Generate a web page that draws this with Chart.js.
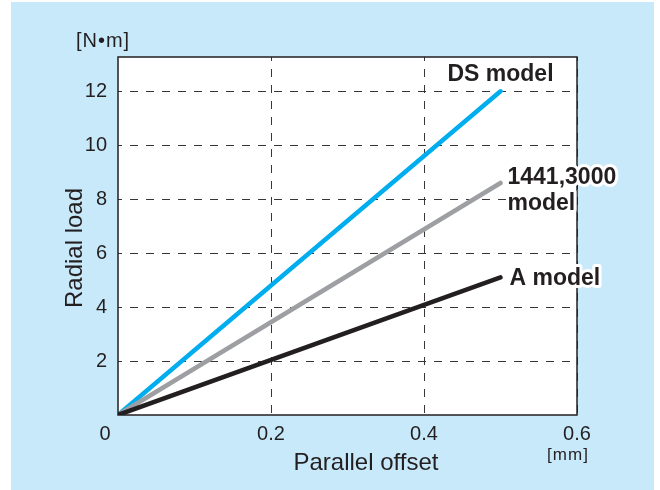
<!DOCTYPE html>
<html>
<head>
<meta charset="utf-8">
<script src="https://cdn.jsdelivr.net/npm/chart.js@4/dist/chart.umd.min.js"></script>
<style>
  body { margin: 0; background: #fff; }
</style>
</head>
<body>
<canvas id="chart" width="660" height="490"></canvas>
<script>
// data
var offsets   = [0, 0.5];          // parallel offset [mm]
var dsModel   = [0, 12.0];         // radial load [N·m]
var midModel  = [0, 8.6];
var aModel    = [0, 5.1];
var xTicks    = [0, 0.2, 0.4, 0.6];
var yTicks    = [0, 2, 4, 6, 8, 10, 12];
var seriesNames = ['DS model', '1441,3000\nmodel', 'A model'];

var ink = '#231f20';
var font = '"Liberation Sans", Arial, Helvetica, sans-serif';

var toPoints = function(ys) {
	var pts = [];
	for (var i = 0; i < offsets.length; i++) {
		pts.push({x: offsets[i], y: ys[i]});
	}
	return pts;
}

var haloText = function(ctx, text, x, y) {
	ctx.strokeText(text, x, y);
	ctx.fillText(text, x, y);
}

// background, plot frame, titles and end labels
var decor = {
	id: 'decor',
	beforeDraw: function(chart) {
		var ctx = chart.ctx, a = chart.chartArea;
		ctx.save();
		ctx.fillStyle = '#fff';
		ctx.fillRect(0, 0, chart.width, chart.height);
		ctx.fillStyle = '#c8e9f9';
		ctx.fillRect(11, 2, 643, 488);
		ctx.fillStyle = '#fff';
		ctx.fillRect(a.left, a.top, a.right - a.left, a.bottom - a.top);
		ctx.restore();
	},
	afterDatasetsDraw: function(chart) {
		var ctx = chart.ctx, a = chart.chartArea;
		var xs = chart.scales.x, ys = chart.scales.y;
		ctx.save();
		ctx.strokeStyle = ink;
		ctx.lineWidth = 1.5;
		ctx.strokeRect(a.left, a.top, a.right - a.left, a.bottom - a.top);

		ctx.fillStyle = ink;
		ctx.textBaseline = 'middle';

		// shared origin label
		ctx.font = '20px ' + font;
		ctx.textAlign = 'center';
		ctx.fillText('0', a.left - 13, a.bottom + 19);

		// axis titles
		ctx.font = '24px ' + font;
		ctx.fillText('Parallel offset', 366, 463);
		ctx.save();
		ctx.translate(75, 248);
		ctx.rotate(-Math.PI / 2);
		ctx.fillText('Radial load', 0, 0);
		ctx.restore();

		// units
		ctx.letterSpacing = '1px';
		ctx.font = '20px ' + font;
		ctx.fillText('[N•m]', 103, 41);
		ctx.font = '17px ' + font;
		ctx.fillText('[mm]', 568, 455);
		ctx.letterSpacing = '0px';

		// series labels at the line ends
		ctx.font = 'bold 23px ' + font;
		ctx.strokeStyle = '#fff';
		ctx.lineWidth = 6;
		ctx.lineJoin = 'round';
		var last = offsets.length - 1;
		var px = xs.getPixelForValue(offsets[last]);

		ctx.textAlign = 'center';
		haloText(ctx, seriesNames[0], px, ys.getPixelForValue(dsModel[last]) - 17);

		ctx.textAlign = 'left';
		var lines = seriesNames[1].split('\n');
		var py = ys.getPixelForValue(midModel[last]) - 5;
		haloText(ctx, lines[0], px + 7, py);
		haloText(ctx, lines[1], px + 7, py + 26);

		haloText(ctx, seriesNames[2], px + 9, ys.getPixelForValue(aModel[last]) + 1);
		ctx.restore();
	}
};

var lineStyle = function(color) {
	return {
		borderColor: color,
		backgroundColor: color,
		borderWidth: 4.5,
		borderCapStyle: 'round',
		pointRadius: 0,
		fill: false,
		tension: 0
	};
}

var dsSet = Object.assign({label: 'DS model', data: toPoints(dsModel)}, lineStyle('#00aeef'));
var midSet = Object.assign({label: '1441,3000 model', data: toPoints(midModel)}, lineStyle('#9d9fa2'));
var aSet = Object.assign({label: 'A model', data: toPoints(aModel)}, lineStyle(ink));

var gridOpts = {
	color: function(c) { return c.tick && c.tick.value === 0 ? 'rgba(0,0,0,0)' : '#3a3637'; },
	lineWidth: 1,
	drawTicks: false
};

new Chart(document.getElementById('chart'), {
	type: 'line',
	data: { datasets: [aSet, midSet, dsSet] },
	options: {
		responsive: false,
		animation: false,
		layout: { padding: { left: 11, top: 57, right: 83, bottom: 0 } },
		plugins: { legend: { display: false }, tooltip: { enabled: false } },
		scales: {
			x: {
				type: 'linear',
				min: 0, max: 0.6,
				afterBuildTicks: function(s) { s.ticks = xTicks.map(function(v) { return {value: v}; }); },
				afterFit: function(s) { s.height = 75; },
				border: { display: false, dash: [8, 8], dashOffset: 4 },
				grid: gridOpts,
				ticks: {
					color: ink,
					padding: 9,
					maxRotation: 0,
					font: { family: font, size: 20, lineHeight: 1 },
					callback: function(v) { return v === 0 ? '' : v.toFixed(1); }
				}
			},
			y: {
				min: 0, max: 13.27,
				afterBuildTicks: function(s) { s.ticks = yTicks.map(function(v) { return {value: v}; }); },
				afterFit: function(s) { s.width = 107; },
				border: { display: false, dash: [8, 8], dashOffset: 4 },
				grid: gridOpts,
				ticks: {
					color: ink,
					padding: 11,
					font: { family: font, size: 20 },
					callback: function(v) { return v === 0 ? '' : String(v); }
				}
			}
		}
	},
	plugins: [decor]
});
</script>
</body>
</html>
